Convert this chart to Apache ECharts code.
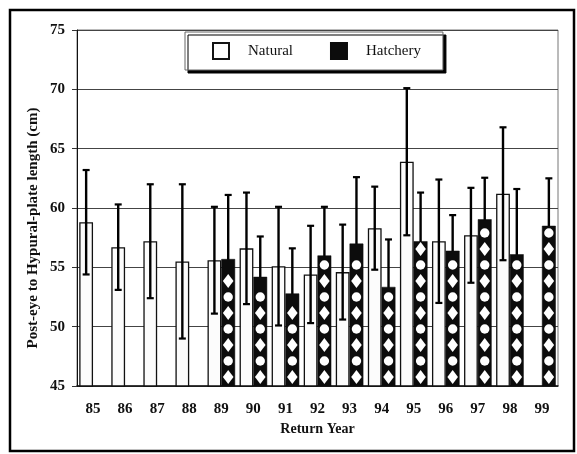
<!DOCTYPE html>
<html>
<head>
<meta charset="utf-8">
<script src="https://cdn.jsdelivr.net/npm/echarts@6/dist/echarts.min.js"></script>
<style>
html,body{margin:0;padding:0;background:#fff;}
#chart{width:577px;height:454px;}
</style>
</head>
<body>
<div id="chart"></div>
<script>
const years = ['85','86','87','88','89','90','91','92','93','94','95','96','97','98','99'];
const naturalMean = [58.8, 56.7, 57.2, 55.5, 55.6, 56.6, 55.1, 54.4, 54.6, 58.3, 63.9, 57.2, 57.7, 61.2, null];
const naturalSD   = [4.4, 3.6, 4.8, 6.5, 4.5, 4.7, 5.0, 4.1, 4.0, 3.5, 6.2, 5.2, 4.0, 5.6, null];
const hatcheryMean = [null, null, null, null, 55.7, 54.2, 52.8, 56.0, 57.0, 53.35, 57.2, 56.4, 59.05, 56.1, 58.5];
const hatcherySD   = [null, null, null, null, 5.4, 3.4, 3.8, 4.1, 5.6, 4.0, 4.1, 3.0, 3.5, 5.5, 4.0];
const yTicks = [45, 50, 55, 60, 65, 70, 75];
const Y_MIN = 45, Y_MAX = 75;

const FONT = "'Liberation Serif', 'DejaVu Serif', serif";
const CAT_GAP = 0.14;

function errData(means, sds) {
  const out = [];
  means.forEach((m, i) => { if (m != null && sds[i] != null) out.push([i, m, sds[i]]); });
  return out;
}

function errRenderer(side, showBottom) {
  return function (params, api) {
    const cat = api.value(0), v = api.value(1), sd = api.value(2);
    const catW = api.size([1, 0])[0];
    const bw = catW * (1 - CAT_GAP) / 2;
    const cx = api.coord([cat, v])[0] + side * bw / 2;
    const top = api.coord([cat, v + sd])[1];
    const bot = api.coord([cat, v - sd])[1];
    const cap = 3.5;
    const children = [
      { type: 'line', shape: { x1: cx, y1: top, x2: cx, y2: bot }, style: { stroke: '#000', lineWidth: 2.4 } },
      { type: 'line', shape: { x1: cx - cap, y1: top, x2: cx + cap, y2: top }, style: { stroke: '#000', lineWidth: 2.2 } }
    ];
    if (showBottom) children.push({ type: 'line', shape: { x1: cx - cap, y1: bot, x2: cx + cap, y2: bot }, style: { stroke: '#000', lineWidth: 2.2 } });
    return { type: 'group', children: children };
  };
}

// white diamond / circle column drawn inside each hatchery bar
function patternRenderer(params, api) {
  const cat = api.value(0), v = api.value(1);
  const catW = api.size([1, 0])[0];
  const bw = catW * (1 - CAT_GAP) / 2;
  const cx = api.coord([cat, v])[0] + bw / 2;
  const top = api.coord([cat, v])[1];
  const base = api.coord([cat, Y_MIN])[1];
  const step = 16;
  const children = [];
  let k = 0;
  for (let cy = base - 9; cy - 6 > top + 1; cy -= step, k++) {
    if (k % 2 === 0) {
      children.push({ type: 'polygon', shape: { points: [[cx, cy - 7], [cx + 5.3, cy], [cx, cy + 7], [cx - 5.3, cy]] }, style: { fill: '#fff' } });
    } else {
      children.push({ type: 'circle', shape: { cx: cx, cy: cy, r: 4.7 }, style: { fill: '#fff' } });
    }
  }
  return { type: 'group', children: children };
}

function patternData(means) {
  const out = [];
  means.forEach((m, i) => { if (m != null) out.push([i, m]); });
  return out;
}

const chart = echarts.init(document.getElementById('chart'), null, { renderer: 'canvas' });
chart.setOption({
  animation: false,
  backgroundColor: '#fff',
  grid: { left: 77, right: 19, top: 30, bottom: 68, show: true, borderColor: '#777', borderWidth: 1 },
  legend: {
    data: [{ name: 'Natural', icon: 'rect' }, { name: 'Hatchery', icon: 'rect' }],
    selectedMode: false,
    left: 185, top: 32,
    padding: [10, 22, 10, 27],
    itemWidth: 16, itemHeight: 16,
    itemGap: 37,
    backgroundColor: '#fff',
    borderColor: '#666', borderWidth: 1,
    shadowColor: '#000', shadowBlur: 0, shadowOffsetX: 3, shadowOffsetY: 3,
    textStyle: { fontFamily: FONT, fontSize: 15, color: '#111', padding: [0, 0, 0, 14] }
  },
  xAxis: {
    type: 'category',
    data: years,
    name: 'Return Year',
    nameLocation: 'middle',
    nameGap: 33,
    nameTextStyle: { fontFamily: FONT, fontSize: 14, fontWeight: 'bold', color: '#111' },
    axisLine: { lineStyle: { color: '#111', width: 1.5 } },
    axisTick: { alignWithLabel: true, length: 4, lineStyle: { color: '#555' } },
    axisLabel: { fontFamily: FONT, fontSize: 15, fontWeight: 'bold', color: '#111', margin: 16 }
  },
  yAxis: {
    type: 'value',
    min: Y_MIN, max: Y_MAX, interval: 5,
    axisLine: { show: true, lineStyle: { color: '#111', width: 1 } },
    axisTick: { show: true, length: 5, lineStyle: { color: '#333' } },
    axisLabel: { fontFamily: FONT, fontSize: 15, fontWeight: 'bold', color: '#111', margin: 12,
      formatter: v => yTicks.indexOf(v) >= 0 ? String(v) : '' },
    splitLine: { show: true, lineStyle: { color: '#444', width: 1 } }
  },
  graphic: [
    { type: 'rect', shape: { x: 10, y: 10, width: 564, height: 441 }, style: { fill: null, stroke: '#000', lineWidth: 2.5 }, z: 100 },
    { type: 'text', x: 33, y: 228, rotation: Math.PI / 2,
      style: { text: 'Post-eye to Hypural-plate length (cm)', font: "bold 15px 'Liberation Serif', serif", fill: '#111', textAlign: 'center', textVerticalAlign: 'middle' } }
  ],
  series: [
    { name: 'HatcheryErr', type: 'custom', renderItem: errRenderer(1, false), data: errData(hatcheryMean, hatcherySD), encode: { x: 0, y: 1 }, z: 1, silent: true },
    { name: 'Natural', type: 'bar', data: naturalMean, barGap: '0%', barCategoryGap: (CAT_GAP * 100) + '%',
      itemStyle: { color: '#fcfcfc', borderColor: '#111', borderWidth: 1.3 }, z: 2 },
    { name: 'Hatchery', type: 'bar', data: hatcheryMean, barGap: '0%', barCategoryGap: (CAT_GAP * 100) + '%',
      itemStyle: { color: '#0c0c0c', borderColor: '#0c0c0c', borderWidth: 0.5 }, z: 2 },
    { name: 'HatcheryPattern', type: 'custom', renderItem: patternRenderer, data: patternData(hatcheryMean),
      encode: { x: 0, y: 1 }, z: 3, silent: true },
    { name: 'NaturalErr', type: 'custom', renderItem: errRenderer(-1, true), data: errData(naturalMean, naturalSD), encode: { x: 0, y: 1 }, z: 4, silent: true }
  ]
});
</script>
</body>
</html>
